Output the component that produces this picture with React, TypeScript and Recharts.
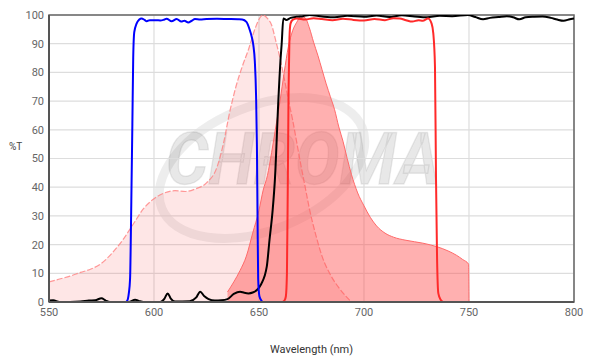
import { ComposedChart, Area, Line, XAxis, YAxis, CartesianGrid, ReferenceArea } from 'recharts'

// ─── Data ─────────────────────────────────────────────────────────────────────

// dye excitation spectrum (light pink, dashed outline)
const exWl = [550, 555, 560, 565, 570, 575, 580, 585, 590, 595, 600, 605, 610, 615, 620, 625, 630, 633, 636, 639, 642, 645, 648, 650, 652, 654, 656, 658, 660, 662, 664, 666, 668, 670, 672, 674, 677, 680, 684, 688, 692, 694]
const exVal = [7, 8, 9, 10.3, 11.5, 13.5, 17, 21.5, 27, 32.5, 36, 38, 38.8, 38.5, 39.5, 41.5, 47, 55, 66, 75, 82, 88, 95, 98.5, 100, 98.8, 96.5, 91, 85, 78, 70.5, 63.5, 55.5, 47.5, 40, 32.5, 23.5, 16, 9.5, 5, 1.5, 0]

// dye emission spectrum (darker red fill)
const emWl = [635, 638, 641, 644, 647, 650, 652, 654, 656, 658, 660, 662, 664, 666, 668, 670, 672, 674, 676, 678, 680, 682, 684, 686, 688, 690, 692, 694, 697, 700, 703, 706, 710, 714, 720, 728, 735, 740, 744, 747, 749.8, 750]
const emVal = [3.5, 7, 11, 16, 24, 32, 39, 44, 52, 61, 70, 80, 89, 94.5, 97.5, 99.5, 99, 95.5, 90.5, 86, 81, 76, 71.5, 67, 61, 56, 50, 44.5, 38, 33.5, 29.5, 26.5, 24, 22.6, 21.5, 20.5, 19.2, 17.8, 16.3, 14.8, 13.2, 0]

// excitation filter (blue)
const exFilterWl = [550, 586.5, 587.3, 588, 588.6, 589.2, 589.7, 590.1, 590.6, 591.7, 593, 594, 595.5, 596.5, 598, 601, 603, 604.5, 606, 608.4, 610.8, 613, 614.5, 616.3, 618, 619.5, 622, 625, 630, 635, 640, 642, 644, 645.5, 646.5, 647.3, 648, 648.6, 649, 649.3, 649.6, 650.2, 651.3, 652, 800]
const exFilterVal = [0, 0, 0.5, 3, 8, 35, 62, 85, 94, 97, 98.4, 98.8, 98.3, 97.8, 98.2, 98.2, 98.1, 98.3, 98.7, 97.8, 98.6, 97.7, 98, 97.4, 98, 98.6, 98.4, 98.6, 98.7, 98.6, 98.5, 98.4, 97.6, 95, 92.5, 89.5, 84, 72, 55, 30, 8, 2, 0.3, 0, 0]

// dichroic (black)
const dichroicWl = [550, 552, 555, 565, 569, 572, 575, 577, 579, 588, 591, 593, 595, 603, 605, 606.5, 608, 610, 617, 620, 622, 624, 626, 629, 632, 635, 638, 641, 643, 645, 647, 649, 651, 653.7, 655, 656.5, 657.6, 659.2, 660.3, 660.8, 661.6, 663, 665, 668, 671, 674, 680, 686, 692, 700, 706, 712, 718, 724, 730, 736, 742, 749.5, 753, 756.7, 760, 764, 768, 771, 774, 777, 781, 785, 789, 792, 795, 798, 800]
const dichroicVal = [0.5, 0.6, 0, 0.2, 0.5, 0.6, 1.3, 0.5, 0, 0, 0.8, 0.3, 0, 0, 1.2, 3, 1.2, 0.2, 0.3, 1.5, 3.6, 2, 1, 0.5, 0.6, 1, 2.8, 3.6, 3.2, 3, 3.3, 4.2, 6.2, 12.3, 21.6, 32, 43, 70, 85, 90, 98.8, 98.3, 99, 99.4, 99.6, 100, 99.5, 99.2, 99.7, 99.4, 99.8, 99.3, 99.9, 99.5, 99.2, 99.7, 99.6, 100, 99.3, 98.5, 99, 99.3, 99.6, 99.2, 98.5, 99.2, 99.4, 99.5, 99, 98.4, 98, 98.5, 98.8]

// emission filter (red)
const emFilterWl = [550, 661, 662.2, 662.8, 663.3, 663.7, 664.1, 664.5, 665, 666, 668, 672, 676, 680, 685, 690, 695, 700, 705, 710, 714, 717, 720, 723, 726, 728, 730.5, 732.2, 733, 733.8, 734.3, 734.8, 735.4, 736.5, 737.8, 800]
const emFilterVal = [0, 0, 0.6, 2, 10, 40, 75, 92, 97, 98.3, 98.8, 98.4, 98.9, 98.6, 98.2, 98.7, 98.3, 98.1, 98.6, 98.2, 98.9, 98.8, 98.2, 97.7, 98.2, 98, 98.8, 97, 93.6, 82, 42.5, 15, 3, 0.8, 0, 0]

const xTicks = [550, 600, 650, 700, 750, 800]
const yTicks = [0, 10, 20, 30, 40, 50, 60, 70, 80, 90, 100]

const toPoints = (xs: number[], ys: number[]) => xs.map((x, i) => ({ x, y: ys[i] }))

// ─── Component ────────────────────────────────────────────────────────────────

const tickStyle = { fontSize: 11, fill: '#666', fontFamily: 'Roboto, sans-serif' }

export default function App() {
  return (
    <div style={{ position: 'absolute', left: 0, top: 0, width: 600, height: 361, background: '#fff' }}>
      {/* faint CHROMA watermark behind the plot */}
      <svg width={600} height={361} style={{ position: 'absolute', left: 0, top: 0 }}>
        <ellipse
          cx={262}
          cy={168}
          rx={108}
          ry={62}
          transform="rotate(-22 262 168)"
          fill="none"
          stroke="rgba(0,0,0,0.07)"
          strokeWidth={9}
        />
        <text
          x={166}
          y={184}
          textLength={274}
          lengthAdjust="spacingAndGlyphs"
          fontFamily="Roboto, sans-serif"
          fontStyle="italic"
          fontWeight={700}
          fontSize={72}
          fill="rgba(0,0,0,0.09)"
          stroke="rgba(0,0,0,0.08)"
          strokeWidth={1.5}
        >
          CHROMA
        </text>
      </svg>
      <div style={{ position: 'absolute', left: 0, top: 0 }}>
        <ComposedChart width={600} height={361} margin={{ top: 15, right: 26, bottom: 0, left: 0 }}>
          <CartesianGrid stroke="#ddd" strokeWidth={1.2} />
          <XAxis
            type="number"
            dataKey="x"
            domain={[550, 800]}
            ticks={xTicks}
            height={59}
            tickSize={3}
            tickMargin={3}
            tickLine={false}
            allowDataOverflow
            axisLine={{ stroke: '#555', strokeWidth: 2 }}
            tick={tickStyle}
            label={{
              value: 'Wavelength (nm)',
              position: 'insideBottom',
              offset: 8,
              style: { fontSize: 11, fill: '#333', fontFamily: 'Roboto, sans-serif' },
            }}
          />
          <YAxis
            type="number"
            dataKey="y"
            domain={[0, 100]}
            ticks={yTicks}
            width={49}
            tickSize={3}
            tickMargin={2}
            tickLine={false}
            allowDataOverflow
            axisLine={{ stroke: '#555', strokeWidth: 2 }}
            tick={tickStyle}
            label={{
              value: '%T',
              position: 'insideLeft',
              offset: 9,
              dy: -12,
              style: { fontSize: 10, fill: '#444', fontFamily: 'Roboto, sans-serif' },
            }}
          />
          <ReferenceArea x1={550} x2={800} y1={0} y2={100} fill="none" stroke="#666" strokeWidth={1.5} />

          {/* dye spectra */}
          <Area
            data={toPoints(exWl, exVal)}
            dataKey="y"
            type="monotone"
            stroke="#ff7f7f"
            strokeOpacity={0.8}
            strokeWidth={1.2}
            strokeDasharray="6 2"
            fill="rgb(248,100,100)"
            fillOpacity={0.16}
            dot={false}
            isAnimationActive={false}
          />
          <Area
            data={toPoints(emWl, emVal)}
            dataKey="y"
            type="monotone"
            stroke="#ff6a6a"
            strokeWidth={1}
            fill="rgb(255,80,80)"
            fillOpacity={0.45}
            dot={false}
            isAnimationActive={false}
          />

          {/* filter set */}
          <Line
            data={toPoints(dichroicWl, dichroicVal)}
            dataKey="y"
            type="monotone"
            stroke="#000"
            strokeWidth={2}
            dot={false}
            isAnimationActive={false}
          />
          <Line
            data={toPoints(exFilterWl, exFilterVal)}
            dataKey="y"
            type="monotone"
            stroke="#0000ff"
            strokeWidth={2}
            dot={false}
            isAnimationActive={false}
          />
          <Line
            data={toPoints(emFilterWl, emFilterVal)}
            dataKey="y"
            type="monotone"
            stroke="#ff2a2a"
            strokeWidth={2}
            dot={false}
            isAnimationActive={false}
          />
        </ComposedChart>
      </div>
    </div>
  )
}
